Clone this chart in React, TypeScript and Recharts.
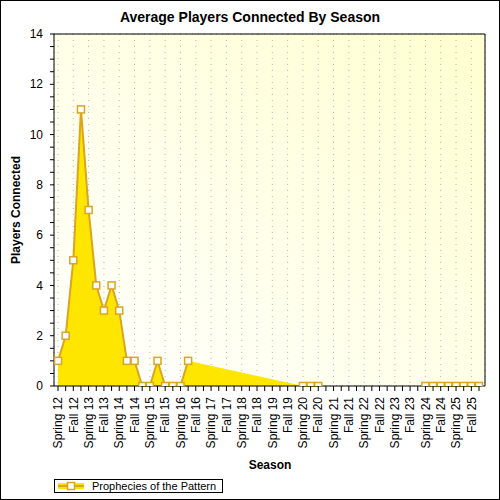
import React from "react";
import {
  ComposedChart,
  Area,
  Line,
  XAxis,
  YAxis,
  CartesianGrid,
  Legend,
  Label,
} from "recharts";

// four seasons a year, only Spring / Fall get a label on the axis
const seasons = [
  "Spring 12", "Summer 12", "Fall 12", "Winter 12",
  "Spring 13", "Summer 13", "Fall 13", "Winter 13",
  "Spring 14", "Summer 14", "Fall 14", "Winter 14",
  "Spring 15", "Summer 15", "Fall 15", "Winter 15",
  "Spring 16", "Summer 16", "Fall 16", "Winter 16",
  "Spring 17", "Summer 17", "Fall 17", "Winter 17",
  "Spring 18", "Summer 18", "Fall 18", "Winter 18",
  "Spring 19", "Summer 19", "Fall 19", "Winter 19",
  "Spring 20", "Summer 20", "Fall 20", "Winter 20",
  "Spring 21", "Summer 21", "Fall 21", "Winter 21",
  "Spring 22", "Summer 22", "Fall 22", "Winter 22",
  "Spring 23", "Summer 23", "Fall 23", "Winter 23",
  "Spring 24", "Summer 24", "Fall 24", "Winter 24",
  "Spring 25", "Summer 25", "Fall 25", "Winter 25",
];

// null = no data for that season
const players: (number | null)[] = [
  1, 2, 5, 11,
  7, 4, 3, 4,
  3, 1, 1, 0,
  0, 1, 0, 0,
  0, 1, null, null,
  null, null, null, null,
  null, null, null, null,
  null, null, null, null,
  0, 0, 0, null,
  null, null, null, null,
  null, null, null, null,
  null, null, null, null,
  0, 0, 0, 0,
  0, 0, 0, 0,
];

const yLabelTicks = [0, 2, 4, 6, 8, 10, 12, 14];
const yMinorTicks = [
  0, 0.5, 1, 1.5, 2, 2.5, 3, 3.5, 4, 4.5, 5, 5.5, 6, 6.5, 7, 7.5,
  8, 8.5, 9, 9.5, 10, 10.5, 11, 11.5, 12, 12.5, 13, 13.5, 14,
];
const gridSeasons = seasons.filter((_, i) => i % 2 === 0);

const seriesName = "Prophecies of the Pattern";

const data = seasons.map((season, i) => ({ season, players: players[i] }));

const FILL = "#ffe600";
const STROKE = "#daa520";
const FONT = "'Liberation Sans', Arial, sans-serif";
const xPadding = { left: 4, right: 6 };

function SeasonTick(props: any) {
  const { x, y, payload, index } = props;
  if (index % 2 !== 0) return <g />;
  return (
    <g transform={`translate(${x},${y}) rotate(-90)`}>
      <text x={-4} y={0} dy="0.35em" textAnchor="end" fontSize={12} fill="#000" fontFamily={FONT}>
        {payload.value}
      </text>
    </g>
  );
}

function ValueTick(props: any) {
  const { x, y, payload } = props;
  if (!yLabelTicks.includes(payload.value)) return <g />;
  return (
    <text x={x} y={y} dy="0.35em" textAnchor="end" fontSize={12} fill="#000" fontFamily={FONT}>
      {payload.value}
    </text>
  );
}

function SquareDot(props: any) {
  const { cx, cy, index, value } = props;
  if (cx == null || cy == null) return <g key={index} />;
  if (value === 0) {
    // marker sits on the axis, only its upper half shows
    return (
      <path
        key={index}
        d={`M${cx - 3.5},${cy} V${cy - 3.5} H${cx + 3.5} V${cy}`}
        fill="#fff"
        stroke={STROKE}
        strokeWidth={1.5}
      />
    );
  }
  return (
    <rect key={index} x={cx - 3.5} y={cy - 3.5} width={7} height={7} fill="#fff" stroke={STROKE} strokeWidth={1.5} />
  );
}

function LegendBox() {
  return (
    <div
      style={{
        border: "1px solid #000",
        background: "#fff",
        display: "flex",
        alignItems: "center",
        height: 12,
        padding: "0 6px 0 3px",
        fontFamily: FONT,
        fontSize: 11,
        color: "#000",
        whiteSpace: "nowrap",
      }}
    >
      <svg width={26} height={10} style={{ marginRight: 8 }}>
        <rect x={0} y={2} width={26} height={6} fill={FILL} />
        <line x1={0} y1={5} x2={26} y2={5} stroke={STROKE} strokeWidth={2} />
        <rect x={9.5} y={1.5} width={7} height={7} fill="#fff" stroke={STROKE} strokeWidth={1.5} />
      </svg>
      {seriesName}
    </div>
  );
}

export default function App() {
  return (
    <div style={{ position: "relative", width: 500, height: 500, background: "#fff", fontFamily: FONT }}>
      <style>{"body{margin:0}"}</style>
      <div
        style={{
          position: "absolute",
          top: 9,
          left: 0,
          width: 500,
          textAlign: "center",
          fontWeight: "bold",
          fontSize: 14,
          color: "#000",
        }}
      >
        Average Players Connected By Season
      </div>
      <ComposedChart width={500} height={500} data={data} margin={{ top: 34, right: 15, bottom: 0, left: 0 }}>
        <defs>
          <linearGradient id="plotBg" x1="0" y1="1" x2="1" y2="0">
            <stop offset="0%" stopColor="#ffffff" />
            <stop offset="100%" stopColor="#ffffd0" />
          </linearGradient>
        </defs>
        <CartesianGrid
          xAxisId="grid"
          yAxisId="grid"
          fill="url(#plotBg)"
          stroke="#b4b4b4"
          strokeDasharray="1 5"
        />
        <XAxis
          dataKey="season"
          interval={0}
          padding={xPadding}
          height={114}
          tickSize={5}
          tickMargin={2}
          tick={<SeasonTick />}
          axisLine={{ stroke: "#000" }}
          tickLine={{ stroke: "#000" }}
        >
          <Label
            content={() => (
              <text x={270} y={465} dy="0.35em" textAnchor="middle" fontWeight="bold" fontSize={12} fontFamily={FONT} fill="#000">
                Season
              </text>
            )}
          />
        </XAxis>
        <XAxis
          xAxisId="top"
          dataKey="season"
          orientation="top"
          mirror
          interval={0}
          padding={xPadding}
          tick={false}
          tickSize={4}
          axisLine={{ stroke: "#000" }}
          tickLine={{ stroke: "#000" }}
        />
        <XAxis xAxisId="grid" dataKey="season" hide padding={xPadding} ticks={gridSeasons} interval={0} />
        <YAxis
          domain={[0, 14]}
          ticks={yMinorTicks}
          interval={0}
          width={54}
          tickSize={4}
          tickMargin={7}
          tick={<ValueTick />}
          axisLine={{ stroke: "#000" }}
          tickLine={{ stroke: "#000" }}
        >
          <Label
            content={() => (
              <text
                x={16}
                y={210}
                dy="0.35em"
                textAnchor="middle"
                transform="rotate(-90 16 210)"
                fontWeight="bold"
                fontSize={12}
                fontFamily={FONT}
                fill="#000"
              >
                Players Connected
              </text>
            )}
          />
        </YAxis>
        <YAxis
          yAxisId="right"
          orientation="right"
          mirror
          domain={[0, 14]}
          ticks={yMinorTicks}
          interval={0}
          tick={false}
          tickSize={4}
          axisLine={{ stroke: "#000" }}
          tickLine={{ stroke: "#000" }}
        />
        <YAxis yAxisId="grid" hide domain={[0, 14]} ticks={yLabelTicks} interval={0} />
        <Area
          type="linear"
          dataKey="players"
          connectNulls
          fill={FILL}
          fillOpacity={1}
          stroke="none"
          dot={false}
          activeDot={false}
          legendType="none"
          isAnimationActive={false}
        />
        <Line
          type="linear"
          dataKey="players"
          name={seriesName}
          stroke={STROKE}
          strokeWidth={2}
          dot={<SquareDot />}
          activeDot={false}
          isAnimationActive={false}
        />
        <Legend
          layout="vertical"
          align="center"
          verticalAlign="middle"
          content={() => <LegendBox />}
          wrapperStyle={{ left: 54, top: 479, width: "auto", height: "auto" }}
        />
      </ComposedChart>
      <div
        style={{
          position: "absolute",
          inset: 0,
          border: "1px solid #000",
          boxSizing: "border-box",
          pointerEvents: "none",
        }}
      />
    </div>
  );
}
